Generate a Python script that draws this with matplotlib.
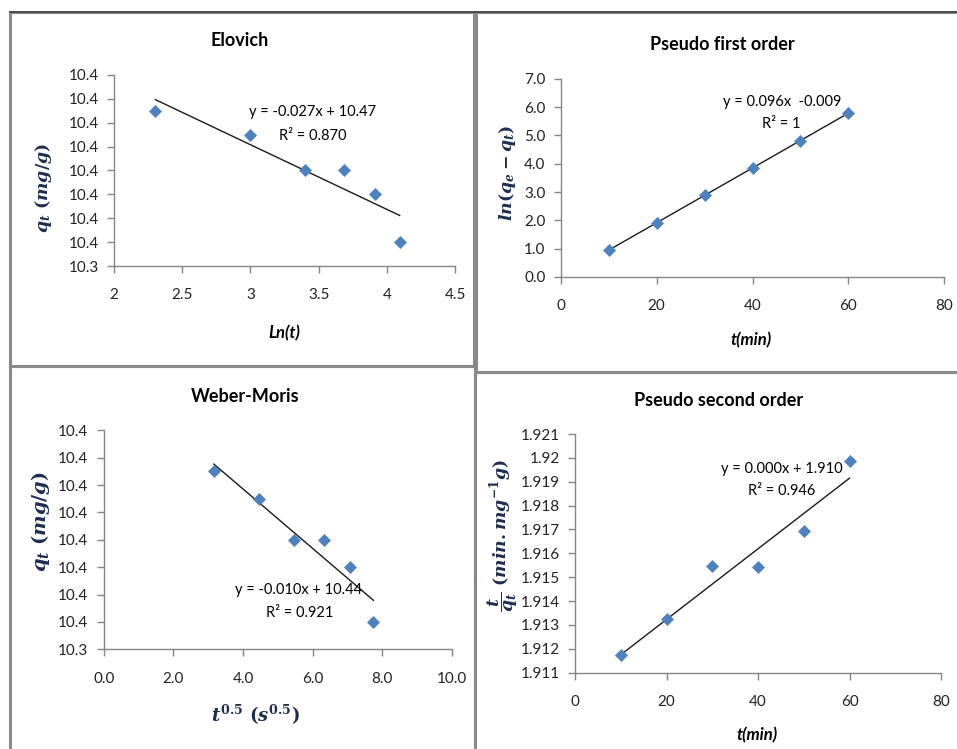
import numpy as np
import matplotlib
matplotlib.use("Agg")
import matplotlib.pyplot as plt
from matplotlib.patches import Rectangle
from matplotlib.ticker import FuncFormatter

plt.rcParams['font.family'] = ['Lato', 'DejaVu Sans']
plt.rcParams['mathtext.fontset'] = 'custom'
plt.rcParams['mathtext.it'] = 'DejaVu Serif:italic:bold'
plt.rcParams['mathtext.rm'] = 'DejaVu Serif:bold'
plt.rcParams['mathtext.bf'] = 'DejaVu Serif:bold'

# data
t_min = [10, 20, 30, 40, 50, 60]
ln_t = [2.303, 2.996, 3.401, 3.689, 3.912, 4.094]
sqrt_t = [3.162, 4.472, 5.477, 6.325, 7.071, 7.746]
qt = [10.405, 10.395, 10.380, 10.380, 10.370, 10.350]
ln_qe_qt = [0.95, 1.91, 2.88, 3.85, 4.81, 5.79]
t_over_qt = [1.91174, 1.91324, 1.91546, 1.91544, 1.91694, 1.91988]

qt_ticks = [10.34, 10.35, 10.36, 10.37, 10.38, 10.39, 10.40, 10.41, 10.42]
qt_tick_labels = ['10.3', '10.4', '10.4', '10.4', '10.4', '10.4', '10.4', '10.4', '10.4']

W, H = 957, 749
fig = plt.figure(figsize=(W / 100, H / 100), dpi=100)
fig.patch.set_facecolor('white')

blue = '#4F81BD'
lab_col = '#1F2D4E'
grey = '#868686'


def px_axes(x0, y0, x1, y1):
    return fig.add_axes([x0 / W, 1 - y1 / H, (x1 - x0) / W, (y1 - y0) / H])


def ftext(x, y, s, **kw):
    fig.text(x / W, 1 - y / H, s, ha='center', va='center', **kw)


def style(ax):
    for side in ['top', 'right']:
        ax.spines[side].set_visible(False)
    for side in ['left', 'bottom']:
        ax.spines[side].set_color(grey)
        ax.spines[side].set_linewidth(1.0)
    ax.tick_params(direction='out', length=5, width=1, color=grey,
                   labelsize=11, labelcolor='#222222')
    ax.tick_params(axis='x', pad=11)
    ax.tick_params(axis='y', pad=6)


def panel(ax, x, y):
    ax.scatter(x, y, marker='D', s=44, color=blue, zorder=3, linewidths=0)
    k, b = np.polyfit(x, y, 1)
    xs = np.array([x[0], x[-1]])
    ax.plot(xs, k * xs + b, color='#1a1a1a', lw=1.0, zorder=2)
    style(ax)


# panel borders
for (x0, y0, x1, y1) in [(10, 12, 474, 366), (476, 12, 960, 372),
                         (10, 366, 475, 752), (475, 372, 960, 752)]:
    fig.patches.append(Rectangle((x0 / W, 1 - y1 / H), (x1 - x0) / W, (y1 - y0) / H,
                                 transform=fig.transFigure, fill=False,
                                 edgecolor='#8a8a8a', lw=2.2, zorder=0))
fig.add_artist(plt.Line2D([10 / W, 957 / W], [1 - 11.5 / H, 1 - 11.5 / H],
                          transform=fig.transFigure, color='#404040', lw=1.2))

# Elovich
ax1 = px_axes(114, 75, 455, 266)
panel(ax1, ln_t, qt)
ax1.set_xlim(2, 4.5)
ax1.set_xticks([2, 2.5, 3, 3.5, 4, 4.5])
ax1.set_xticklabels(['2', '2.5', '3', '3.5', '4', '4.5'])
ax1.set_ylim(10.34, 10.42)
ax1.set_yticks(qt_ticks)
ax1.set_yticklabels(qt_tick_labels)
ftext(240, 40, 'Elovich', fontsize=13, fontweight='bold')
ftext(284, 333, 'Ln(t)', fontsize=12, fontweight='bold', style='italic')
ftext(43, 188, r'$q_t\ (mg/g)$', fontsize=12.5, rotation=90, color=lab_col)
ftext(313, 112, 'y = -0.027x + 10.47', fontsize=10.5)
ftext(313, 136, 'R² = 0.870', fontsize=10.5)

# Pseudo first order
ax2 = px_axes(560.7, 78.7, 944.3, 277)
panel(ax2, t_min, ln_qe_qt)
ax2.set_xlim(0, 80)
ax2.set_xticks([0, 20, 40, 60, 80])
ax2.set_ylim(0, 7)
ax2.set_yticks(np.arange(0, 7.5, 1.0))
ax2.yaxis.set_major_formatter(FuncFormatter(lambda v, p: f'{v:.1f}'))
ftext(722, 45, 'Pseudo first order', fontsize=13, fontweight='bold')
ftext(751, 340, 't(min)', fontsize=12, fontweight='bold', style='italic')
ftext(508, 173, r'$ln(q_e - q_t)$', fontsize=12.5, rotation=90, color=lab_col)
ftext(782, 102, 'y = 0.096x  -0.009', fontsize=10.5)
ftext(781, 124, 'R² = 1', fontsize=10.5)

# Weber-Moris
ax3 = px_axes(103.7, 430.3, 452, 649.3)
panel(ax3, sqrt_t, qt)
ax3.set_xlim(0, 10)
ax3.set_xticks(np.arange(0, 10.5, 2.0))
ax3.xaxis.set_major_formatter(FuncFormatter(lambda v, p: f'{v:.1f}'))
ax3.set_ylim(10.34, 10.42)
ax3.set_yticks(qt_ticks)
ax3.set_yticklabels(qt_tick_labels)
ftext(245, 397, 'Weber-Moris', fontsize=13, fontweight='bold')
ftext(255, 715, r'$t^{0.5}\ (s^{0.5})$', fontsize=13, color=lab_col)
ftext(40, 522, r'$q_t\ (mg/g)$', fontsize=14, rotation=90, color=lab_col)
ftext(299, 590, 'y = -0.010x + 10.44', fontsize=10.5)
ftext(300, 613, 'R² = 0.921', fontsize=10.5)

# Pseudo second order
ax4 = px_axes(575, 434, 941, 672.7)
panel(ax4, t_min, t_over_qt)
ax4.set_xlim(0, 80)
ax4.set_xticks([0, 20, 40, 60, 80])
ax4.set_ylim(1.911, 1.921)
ax4.set_yticks(np.arange(1.911, 1.9215, 0.001))
ax4.yaxis.set_major_formatter(FuncFormatter(lambda v, p: f'{round(v, 3):g}'))
ftext(719, 400, 'Pseudo second order', fontsize=13, fontweight='bold')
ftext(757, 735, 't(min)', fontsize=12, fontweight='bold', style='italic')
ftext(503, 535, r'$\dfrac{t}{q_t}\ (min.mg^{-1}g)$', fontsize=12.5, rotation=90, color=lab_col)
ftext(782, 469, 'y = 0.000x + 1.910', fontsize=10.5)
ftext(782, 491, 'R² = 0.946', fontsize=10.5)

fig.savefig('out.png', dpi=100)
